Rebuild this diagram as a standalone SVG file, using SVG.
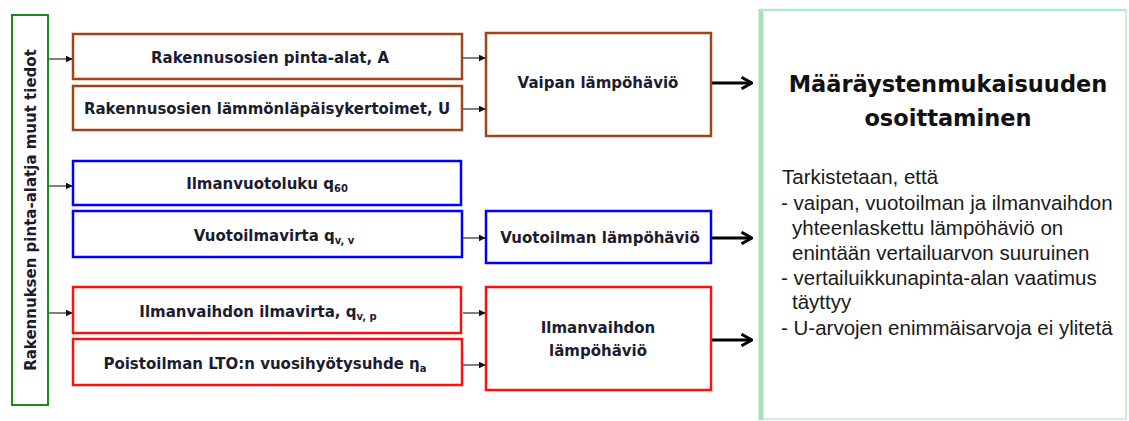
<svg xmlns="http://www.w3.org/2000/svg" width="1129" height="421" viewBox="0 0 1129 421">
<style>
.box{fill:#fff;stroke-width:2.5}
.br{stroke:#a0441c}
.bl{stroke:#0000ff}
.rd{stroke:#ff1010}
.t{font-family:"DejaVu Sans",Verdana,sans-serif;font-weight:bold;font-size:15px;fill:#1c1c30;text-anchor:middle}
.sub{font-size:10px}
.small{stroke:#555;stroke-width:1.5;fill:none}
.big{stroke:#000;stroke-width:3;fill:none}
.body{font-family:"Liberation Sans",Arial,sans-serif;font-size:20.5px;fill:#1a1a1a}
</style>
<defs>
<marker id="sa" viewBox="0 0 10 10" refX="9" refY="5" markerWidth="7" markerHeight="7" markerUnits="userSpaceOnUse" orient="auto">
<path d="M0,0 L10,5 L0,10 z" fill="#111"/>
</marker>
<marker id="ba" viewBox="0 0 12 12" refX="11" refY="6" markerWidth="14" markerHeight="14" markerUnits="userSpaceOnUse" orient="auto">
<path d="M2,1 L11,6 L2,11" fill="none" stroke="#000" stroke-width="2.5"/>
</marker>
</defs>
<rect width="1129" height="421" fill="#fff"/>

<g id="left-info">
<rect x="12" y="15" width="36" height="390" fill="#fff" stroke="#1a8c1a" stroke-width="2"/>
<text class="t" transform="translate(36,210) rotate(-90)">Rakennuksen pinta-alatja muut tiedot</text>
</g>

<g id="n-pinta-alat">
<rect class="box br" x="73" y="34" width="389" height="45"/>
<text class="t" x="270" y="63">Rakennusosien pinta-alat, A</text>
</g>
<g id="n-u-arvot">
<rect class="box br" x="73" y="86" width="389" height="44"/>
<text class="t" x="267" y="114">Rakennusosien lämmönläpäisykertoimet, U</text>
</g>
<g id="n-q50">
<rect class="box bl" x="73" y="161" width="388" height="44"/>
<text class="t" x="267" y="189">Ilmanvuotoluku q<tspan class="sub" dy="3">60</tspan></text>
</g>
<g id="n-vuotoilmavirta">
<rect class="box bl" x="73" y="211" width="389" height="46"/>
<text class="t" x="274" y="241">Vuotoilmavirta q<tspan class="sub" dy="3">v, v</tspan></text>
</g>
<g id="n-ilmavirta">
<rect class="box rd" x="73" y="287" width="388" height="46"/>
<text class="t" x="258" y="317">Ilmanvaihdon ilmavirta, q<tspan class="sub" dy="3">v, p</tspan></text>
</g>
<g id="n-lto">
<rect class="box rd" x="73" y="339" width="389" height="46"/>
<text class="t" x="265" y="369">Poistoilman LTO:n vuosihyötysuhde η<tspan class="sub" dy="3">a</tspan></text>
</g>

<g id="n-vaipan">
<rect class="box br" x="486" y="33" width="225" height="103"/>
<text class="t" x="598" y="88">Vaipan lämpöhäviö</text>
</g>
<g id="n-vuotoilman">
<rect class="box bl" x="486" y="211" width="225" height="52"/>
<text class="t" x="600" y="243">Vuotoilman lämpöhäviö</text>
</g>
<g id="n-ilmanvaihdon">
<rect class="box rd" x="486" y="287" width="225" height="103"/>
<text class="t" x="598" y="333">Ilmanvaihdon</text>
<text class="t" x="598" y="356">lämpöhäviö</text>
</g>

<g id="n-maaraystenmukaisuus">
<rect x="760" y="10" width="366" height="409" fill="#fff" stroke="#cdf0d7" stroke-width="2"/>
<line x1="761" y1="9" x2="761" y2="420" stroke="#a6e2b9" stroke-width="5"/>
<line x1="760" y1="10" x2="1126" y2="10" stroke="#b5e8c4" stroke-width="2.5"/>
<text x="948" y="92" font-family="DejaVu Sans,Verdana,sans-serif" font-weight="bold" font-size="22.5" fill="#111" text-anchor="middle">Määräystenmukaisuuden</text>
<text x="948" y="126" font-family="DejaVu Sans,Verdana,sans-serif" font-weight="bold" font-size="22.5" fill="#111" text-anchor="middle">osoittaminen</text>
<text class="body" x="782" y="184">Tarkistetaan, että</text>
<text class="body" x="781" y="210">- vaipan, vuotoilman ja ilmanvaihdon</text>
<text class="body" x="792" y="235">yhteenlaskettu lämpöhäviö on</text>
<text class="body" x="792" y="260">enintään vertailuarvon suuruinen</text>
<text class="body" x="781" y="285">- vertailuikkunapinta-alan vaatimus</text>
<text class="body" x="792" y="309">täyttyy</text>
<text class="body" x="781" y="335">- U-arvojen enimmäisarvoja ei ylitetä</text>
</g>

<g id="connectors">
<line class="small" x1="49" y1="59" x2="72" y2="59" marker-end="url(#sa)"/>
<line class="small" x1="49" y1="186" x2="72" y2="186" marker-end="url(#sa)"/>
<line class="small" x1="49" y1="313" x2="72" y2="313" marker-end="url(#sa)"/>
<line class="small" x1="463" y1="58" x2="485" y2="58" marker-end="url(#sa)"/>
<line class="small" x1="463" y1="109" x2="485" y2="109" marker-end="url(#sa)"/>
<line class="small" x1="463" y1="238" x2="485" y2="238" marker-end="url(#sa)"/>
<line class="small" x1="463" y1="313" x2="485" y2="313" marker-end="url(#sa)"/>
<line class="small" x1="463" y1="365" x2="485" y2="365" marker-end="url(#sa)"/>
<line class="big" x1="712" y1="83" x2="752" y2="83" marker-end="url(#ba)"/>
<line class="big" x1="712" y1="238" x2="752" y2="238" marker-end="url(#ba)"/>
<line class="big" x1="712" y1="340" x2="752" y2="340" marker-end="url(#ba)"/>
</g>
</svg>
